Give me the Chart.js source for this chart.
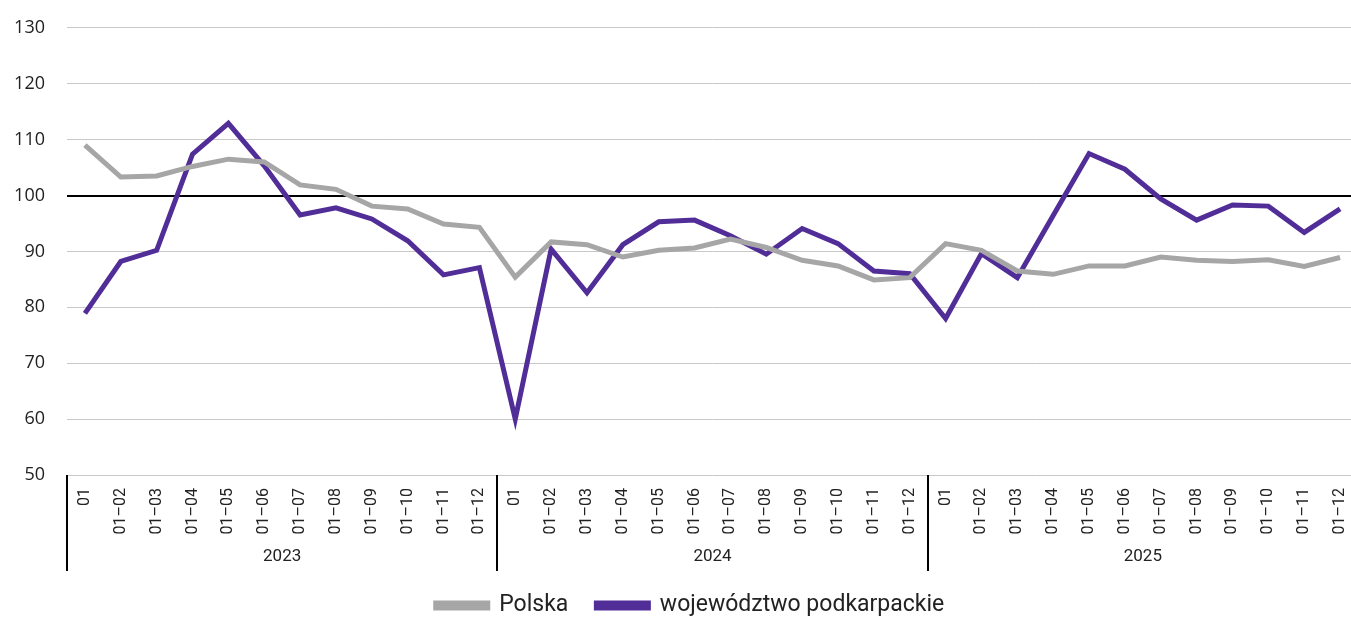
<!DOCTYPE html>
<html>
<head>
<meta charset="utf-8">
<script src="https://cdn.jsdelivr.net/npm/chart.js@4"></script>
<style>
  html, body { margin: 0; padding: 0; background: #fff; overflow: hidden; }
  #wrap { width: 1380px; height: 622px; margin-top: -5px; }
</style>
</head>
<body>
<div id="wrap"><canvas id="chart"></canvas></div>
<script>
// month ranges inside each year
const periods = ['01', '01–02', '01–03', '01–04', '01–05', '01–06', '01–07', '01–08', '01–09', '01–10', '01–11', '01–12'];
const years = ['2023', '2024', '2025'];
const categories = years.flatMap(() => periods);

const polska = [
  109.0, 103.3, 103.5, 105.2, 106.5, 106.0, 101.9, 101.1, 98.1, 97.6, 94.9, 94.3,
  85.4, 91.7, 91.2, 89.0, 90.2, 90.6, 92.2, 90.7, 88.4, 87.4, 84.9, 85.3,
  91.4, 90.2, 86.5, 85.9, 87.4, 87.4, 89.0, 88.4, 88.2, 88.5, 87.3, 88.9
];
const podkarpackie = [
  78.9, 88.2, 90.2, 107.4, 112.9, 105.3, 96.5, 97.8, 95.8, 91.9, 85.8, 87.1,
  60.0, 90.4, 82.6, 91.2, 95.3, 95.6, 92.8, 89.5, 94.1, 91.4, 86.5, 86.0,
  78.0, 89.6, 85.3, 96.4, 107.5, 104.7, 99.4, 95.6, 98.3, 98.1, 93.4, 97.6
];

// draws year group separators and year labels under the month labels
const yearGroups = {
  id: 'yearGroups',
  afterDraw(chart) {
    const ctx = chart.ctx;
    const x = chart.scales.x;
    const bottom = chart.chartArea.bottom;
    const step = x.getPixelForValue(1) - x.getPixelForValue(0);
    ctx.save();
    ctx.strokeStyle = '#000';
    ctx.lineWidth = 2;
    ctx.fillStyle = '#222';
    ctx.font = '17px Roboto, sans-serif';
    ctx.textAlign = 'center';
    ctx.textBaseline = 'middle';
    years.forEach((yr, g) => {
      const first = x.getPixelForValue(g * periods.length);
      const last = x.getPixelForValue(g * periods.length + periods.length - 1);
      const left = Math.round(first - step / 2);
      ctx.beginPath();
      ctx.moveTo(left, bottom);
      ctx.lineTo(left, bottom + 96);
      ctx.stroke();
      ctx.fillText(yr, (first + last) / 2, bottom + 82);
    });
    ctx.restore();
  }
};

// nudge the legend a bit to the right, like in the original
const legendShift = {
  id: 'legendShift',
  afterLayout(chart) {
    chart.legend.left += 11;
    chart.legend.right += 11;
  }
};

new Chart(document.getElementById('chart'), {
  type: 'line',
  data: {
    labels: categories,
    datasets: [
      {
        label: 'Polska',
        data: polska,
        borderColor: '#a6a6a6',
        backgroundColor: '#a6a6a6',
        borderWidth: 5,
        pointRadius: 0,
        tension: 0
      },
      {
        label: 'województwo podkarpackie',
        data: podkarpackie,
        borderColor: '#512d98',
        backgroundColor: '#512d98',
        borderWidth: 5,
        pointRadius: 0,
        tension: 0
      }
    ]
  },
  options: {
    responsive: true,
    maintainAspectRatio: false,
    animation: false,
    layout: { padding: { top: 17, right: 22, left: 0, bottom: -10 } },
    plugins: {
      legend: {
        position: 'bottom',
        labels: {
          boxWidth: 52,
          boxHeight: 5,
          padding: 28,
          color: '#222',
          font: { family: 'Roboto, sans-serif', size: 23 }
        }
      },
      tooltip: { enabled: false }
    },
    scales: {
      x: {
        offset: true,
        grid: { display: false },
        border: { display: false },
        ticks: {
          autoSkip: false,
          minRotation: 90,
          maxRotation: 90,
          padding: 5,
          color: '#222',
          font: { family: 'Roboto, sans-serif', size: 16 }
        },
        afterFit: (scale) => { scale.height = 91; }
      },
      y: {
        min: 50,
        max: 130,
        border: { display: false },
        grid: {
          drawTicks: false,
          color: (c) => c.tick && c.tick.value === 100 ? '#000' : '#c8c8c8',
          lineWidth: (c) => c.tick && c.tick.value === 100 ? 2 : 1
        },
        ticks: {
          stepSize: 10,
          padding: 22,
          color: '#222',
          font: { family: '"Open Sans", sans-serif', size: 18 }
        },
        afterFit: (scale) => { scale.width = 67; }
      }
    }
  },
  plugins: [yearGroups, legendShift]
});
</script>
</body>
</html>
